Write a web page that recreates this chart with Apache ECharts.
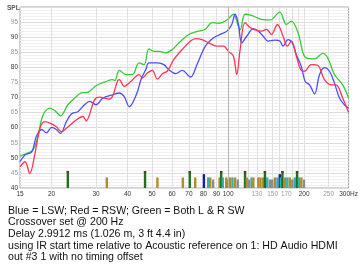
<!DOCTYPE html>
<html>
<head>
<meta charset="utf-8">
<script src="https://cdn.jsdelivr.net/npm/echarts@6/dist/echarts.min.js"></script>
<style>
  html, body { margin: 0; padding: 0; background: #fff; }
  #chart { width: 361px; height: 275px; }
</style>
</head>
<body>
<div id="chart"></div>
<script>
// Green = both L & R SW
const bothFreq = [15, 16.4, 16.9, 17.6, 18.5, 19.7, 20.6, 21.7, 23.2, 24.7, 26.2, 27.8, 30.0, 32.9, 34.9, 35.6, 37.1, 39.4, 41.8, 44.4, 46.5, 48.6, 50.9, 53.3, 56.6, 60.1, 63.8, 69.9, 76.5, 81.3, 86.3, 91.7, 98.9, 105, 111.6, 116.7, 123.9, 135.7, 146.4, 160.2, 170.1, 178, 189.2, 197.9, 203.9, 220, 237.1, 248.1, 263.7, 284.2, 300]
const bothSpl = [50.6, 51.9, 52.6, 56.5, 64.2, 66.5, 65.7, 63.9, 67.6, 69.8, 71.5, 71.7, 73.9, 75.3, 75.9, 75.6, 79.0, 77.6, 77.6, 81.5, 80.9, 86.1, 85.3, 85.3, 84.8, 85.9, 88.1, 90.9, 92.0, 92.6, 94.8, 94.6, 95.7, 97.6, 92.4, 97.6, 97.2, 95.9, 95.7, 98.3, 94.2, 95.3, 91.5, 84.8, 83.1, 82.8, 84.6, 83.1, 77.6, 74.2, 69.8]

// Red = RSW
const rswFreq = [15, 15.7, 16.4, 17.2, 18.0, 18.8, 19.7, 20.9, 21.9, 22.9, 25.1, 26.6, 27.4, 29.6, 30.9, 33.9, 34.9, 36.5, 37.1, 38.8, 41.2, 44.4, 45.8, 47.9, 50.1, 52.5, 54.9, 57.4, 61.0, 65.8, 71.0, 74.3, 78.8, 83.8, 90.3, 95.9, 100.4, 105, 108.2, 111.6, 116.7, 122.2, 127.8, 135.7, 141.9, 148.5, 156.8, 165.1, 171.6, 178, 186.3, 193.8, 200.9, 213.3, 226.7, 240.7, 255.7, 267.6, 284.2, 300]
const rswSpl = [47.0, 48.7, 44.8, 51.5, 59.8, 62.0, 61.5, 60.3, 58.7, 59.8, 62.6, 63.7, 62.3, 69.2, 70.1, 69.5, 70.5, 75.5, 75.9, 73.7, 75.3, 77.6, 76.5, 78.1, 79.0, 76.1, 77.9, 78.7, 82.6, 85.9, 88.7, 89.5, 89.2, 88.1, 87.0, 87.0, 85.3, 83.7, 77.6, 85.9, 94.8, 93.2, 92.4, 92.0, 92.6, 90.9, 94.2, 90.3, 87.0, 88.7, 83.7, 79.2, 78.7, 80.9, 80.6, 75.9, 74.2, 74.2, 69.8, 65.0]

// Blue = LSW
const lswFreq = [15, 15.7, 16.7, 17.4, 18.3, 19.1, 20.0, 20.9, 21.7, 22.9, 24.0, 25.4, 27.0, 28.3, 30.0, 31.9, 34.9, 37.1, 38.8, 40.6, 41.8, 43.8, 45.2, 47.2, 48.6, 52.5, 55.7, 58.3, 62.0, 65.8, 71.0, 75.3, 81.3, 87.6, 93.1, 98.9, 103.4, 106.6, 109.9, 113.2, 118.5, 125.9, 131.7, 137.8, 144.1, 153.2, 160.2, 165.1, 172.8, 179.6, 186.3, 194.9, 202, 210.2, 220, 230.2, 240.7, 252, 263.7, 275.9, 288.6, 300]
const lswSpl = [48.7, 50.9, 52.0, 57.0, 59.4, 58.3, 60.1, 59.4, 58.1, 62.0, 64.6, 65.3, 67.6, 68.7, 67.6, 69.8, 70.9, 71.5, 70.3, 67.0, 68.1, 72.0, 76.0, 79.2, 81.5, 81.5, 80.9, 79.2, 77.9, 79.0, 76.8, 80.9, 87.0, 89.8, 90.9, 92.0, 94.2, 97.6, 94.2, 88.1, 90.3, 92.8, 92.0, 90.3, 88.7, 89.0, 88.7, 87.0, 89.2, 88.1, 84.2, 80.3, 75.3, 74.2, 71.2, 77.6, 79.9, 78.7, 74.8, 69.8, 67.6, 66.5]

// timing markers along the bottom
const barFreq = [23.2, 33.1, 46.9, 52.5, 66.2, 70.5, 74.1, 80.2, 83.4, 84.9, 87.2, 92.5, 93.9, 95.3, 98.3, 100.1, 101.9, 104.1, 106.6, 109.2, 116.7, 118.5, 121.1, 123.9, 125.9, 131.7, 134.4, 137.8, 139.9, 142.9, 146.4, 149.5, 153.2, 156.8, 160.2, 161.7, 164.1, 167.7, 171.6, 175.5, 179.6, 183.6, 187.5, 190.8, 194.9, 199.7]
const barLevel = [45.6, 43.5, 45.6, 43.5, 43.5, 45.6, 43.5, 44.6, 43.5, 43.5, 42.8, 43.5, 45.6, 43.5, 43.5, 42.8, 43.5, 43.5, 43.5, 42.8, 45.6, 43.5, 42.8, 43.5, 43.5, 43.5, 43.5, 43.5, 45.6, 43.5, 42.8, 42.8, 43.5, 43.5, 44.6, 43.5, 45.6, 43.5, 43.5, 43.5, 42.8, 43.5, 45.6, 43.5, 43.5, 42.8]
const barKind = ['green', 'olive', 'green', 'olive', 'olive', 'green', 'olive', 'navy', 'teal', 'olive', 'gray', 'olive', 'green', 'teal', 'olive', 'gray', 'olive', 'teal', 'olive', 'gray', 'green', 'olive', 'gray', 'teal', 'olive', 'olive', 'olive', 'olive', 'green', 'teal', 'gray', 'gray', 'olive', 'teal', 'navy', 'teal', 'green', 'olive', 'teal', 'olive', 'gray', 'teal', 'green', 'teal', 'olive', 'gray']

const xLabelValues = [15, 20, 30, 40, 50, 60, 70, 80, 90, 100, 130, 150, 170, 200, 250, 300]
const xMinorLabels = [130, 150, 170, 250]
const xGridValues = [20, 30, 40, 50, 60, 70, 80, 90, 110, 120, 130, 140, 150, 160, 170, 180, 190, 200, 250]

const kindNames = ['green', 'olive', 'navy', 'teal', 'gray']
const kindColors = ['#1f6f1f', '#b38b2a', '#1b1b9e', '#2fb2b2', '#8c8c8c']

const noteLines = [
  'Blue = LSW; Red = RSW; Green = Both L & R SW',
  'Crossover set @ 200 Hz',
  'Delay 2.9912 ms (1.026 m, 3 ft 4.4 in)',
  'using IR start time relative to Acoustic reference on 1: HD Audio HDMI',
  'out #3 1 with no timing offset'
]

const pairs = (xs, ys) => xs.map((x, i) => [x, ys[i]])
const barData = barFreq.map((f, i) => [f, barLevel[i], kindNames.indexOf(barKind[i])])

const chart = echarts.init(document.getElementById('chart'))

const lineSeries = (name, color, data) => ({
  name: name,
  type: 'line',
  data: data,
  smooth: 0.35,
  symbol: 'none',
  lineStyle: { color: color, width: 1.3 },
  z: 3
})

chart.setOption({
  animation: false,
  textStyle: { fontFamily: 'Liberation Sans, Arial, sans-serif' },
  title: [{
    text: 'SPL',
    left: 2,
    top: 0,
    textStyle: { fontSize: 6.5, fontWeight: 'bold', color: '#555' }
  }, {
    text: noteLines.join('\n'),
    left: 3,
    top: 200,
    textStyle: { fontSize: 10.6, fontWeight: 'normal', color: '#111', lineHeight: 11.6 }
  }],
  grid: {
    left: 20, right: 10, top: 7, bottom: 87,
    show: true, borderColor: '#a6a6a6', borderWidth: 1
  },
  xAxis: {
    type: 'log',
    logBase: 10,
    min: 15,
    max: 300,
    axisLine: { show: false },
    axisTick: { show: false, customValues: xGridValues },
    splitLine: { show: true, lineStyle: { color: '#e0e0e0', width: 1 } },
    axisLabel: {
      customValues: xLabelValues,
      margin: 3,
      fontSize: 6.5,
      formatter: v => {
        const n = Math.round(v)
        const txt = n === 300 ? '300Hz' : String(n)
        return xMinorLabels.includes(n) ? '{g|' + txt + '}' : '{b|' + txt + '}'
      },
      rich: {
        b: { fontSize: 6.5, color: '#333' },
        g: { fontSize: 6.5, color: '#9a9a9a' }
      }
    }
  },
  yAxis: {
    type: 'value',
    min: 40,
    max: 100,
    interval: 5,
    axisLine: { show: false },
    axisTick: { show: false },
    minorTick: { show: false, splitNumber: 5 },
    splitLine: { show: true, lineStyle: { color: '#dcdcdc', width: 1 } },
    minorSplitLine: { show: true, lineStyle: { color: '#f0f0f0', width: 1 } },
    axisLabel: {
      margin: 2,
      fontSize: 6.5,
      formatter: v => {
        if (v >= 100) return ''
        return v % 10 === 0 ? '{b|' + v + '}' : '{g|' + v + '}'
      },
      rich: {
        b: { fontSize: 6.5, color: '#333' },
        g: { fontSize: 6.5, color: '#9a9a9a' }
      }
    }
  },
  series: [
    {
      type: 'custom',
      data: barData,
      z: 2,
      renderItem: (params, api) => {
        const top = api.coord([api.value(0), api.value(1)])
        const base = api.coord([api.value(0), 40])
        const k = api.value(2)
        const children = [{
          type: 'rect',
          shape: { x: top[0] - 1.2, y: top[1], width: 2.4, height: base[1] - top[1] },
          style: { fill: kindColors[k] }
        }]
        if (kindNames[k] === 'green') {
          children.push({
            type: 'rect',
            shape: { x: top[0] - 1.2, y: top[1], width: 2.4, height: 1.5 },
            style: { fill: '#7a2418' }
          })
        }
        return { type: 'group', children: children }
      }
    },
    Object.assign(lineSeries('Both L & R SW', '#33cc33', pairs(bothFreq, bothSpl)), {
      markLine: {
        silent: true,
        symbol: 'none',
        label: { show: false },
        lineStyle: { color: '#b4b4b4', type: 'solid', width: 1 },
        data: [{ xAxis: 100 }]
      }
    }),
    lineSeries('LSW', '#4d4dff', pairs(lswFreq, lswSpl)),
    lineSeries('RSW', '#ff3355', pairs(rswFreq, rswSpl))
  ]
})
</script>
</body>
</html>
